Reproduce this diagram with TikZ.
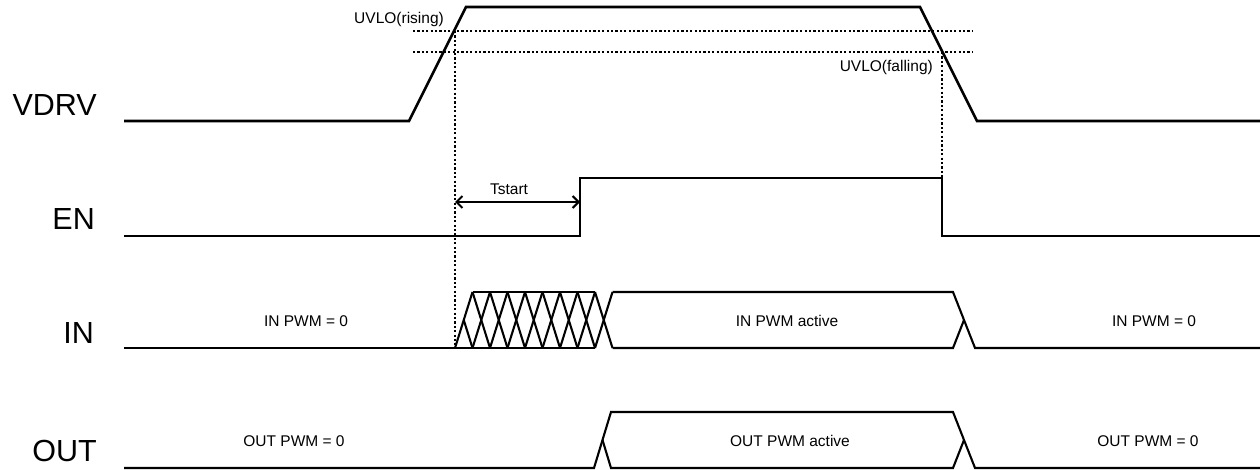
\documentclass[tikz,border=0pt]{standalone}
\usepackage{fontspec}
\setmainfont{Liberation Sans}
\usetikzlibrary{arrows.meta}
\begin{document}
\begin{tikzpicture}[x=1pt,y=-1pt,
  sig/.style={line width=2.6pt,line join=miter},
  bus/.style={line width=2.1pt,line join=miter},
  dots/.style={line width=2.4pt,dash pattern=on 2.2pt off 2.2pt},
  biglbl/.style={font=\fontsize{30.5}{32}\selectfont,anchor=east,inner sep=0pt},
  smalllbl/.style={font=\fontsize{15.5}{17}\selectfont,inner sep=0pt},
  dim/.style={line width=2.1pt,{Straight Barb[length=6pt,width=12pt]}-{Straight Barb[length=6pt,width=12pt]}}]
\useasboundingbox (0,0) rectangle (1260,470);
% signal names
\node[biglbl] (lvdrv) at (97,105) {VDRV};
\node[biglbl] (len) at (95,219) {EN};
\node[biglbl] (lin) at (94,333) {IN};
\node[biglbl] (lout) at (97,451) {OUT};
% threshold lines
\draw[dots] (413,31) -- (972,31);
\draw[dots] (413,52) -- (972,52);
\node[smalllbl,anchor=east] (urise) at (444,19) {UVLO(rising)};
\node[smalllbl,anchor=east] (ufall) at (933,67) {UVLO(falling)};
% vertical dotted markers
\coordinate (d1t) at (455,31);
\coordinate (d1b) at (455,345);
\coordinate (d2t) at (942,52);
\coordinate (d2b) at (942,178);
\draw[dots] (d1t) -- (d1b);
\draw[dots] (d2t) -- (d2b);
% VDRV
\draw[sig] (124,121) -- (409,121) -- (466,7) -- (920,7) -- (977,121) -- (1260,121);
% EN
\draw[sig] (124,236) -- (580,236) -- (580,178) -- (942,178) -- (942,236) -- (1260,236);
% Tstart
\coordinate (ts1) at (455,202);
\coordinate (ts2) at (580,202);
\draw[dim] (ts1) -- (ts2);
\node[smalllbl] (tstart) at (509,189) {Tstart};
% IN
\draw[bus] (124,348) -- (595,348);
\draw[bus] (472.5,292) -- (595,292);
\foreach \k in {0,...,8}{
  \draw[bus] ({455+17.5*\k},348) -- ({472.5+17.5*\k},292);
}
\foreach \k in {1,...,8}{
  \draw[bus] ({455+17.5*\k},292) -- ({472.5+17.5*\k},348);
}
\draw[bus] (463.75,320) -- (472.5,348);
\draw[bus] (612.5,292) -- (953,292) -- (975,348) -- (1260,348);
\draw[bus] (612.5,348) -- (953,348) -- (964,320);
\node[smalllbl] (in0) at (306,321) {IN PWM = 0};
\node[smalllbl] (inact) at (787,321) {IN PWM active};
\node[smalllbl] (in1) at (1154,321) {IN PWM = 0};
% OUT
\draw[bus] (124,468) -- (594,468) -- (611,412) -- (953,412) -- (975,468) -- (1260,468);
\draw[bus] (602.5,440) -- (611,468) -- (953,468) -- (964,440);
\node[smalllbl] (out0) at (294,441) {OUT PWM = 0};
\node[smalllbl] (outact) at (790,441) {OUT PWM active};
\node[smalllbl] (out1) at (1148,441) {OUT PWM = 0};
\end{tikzpicture}
\end{document}
